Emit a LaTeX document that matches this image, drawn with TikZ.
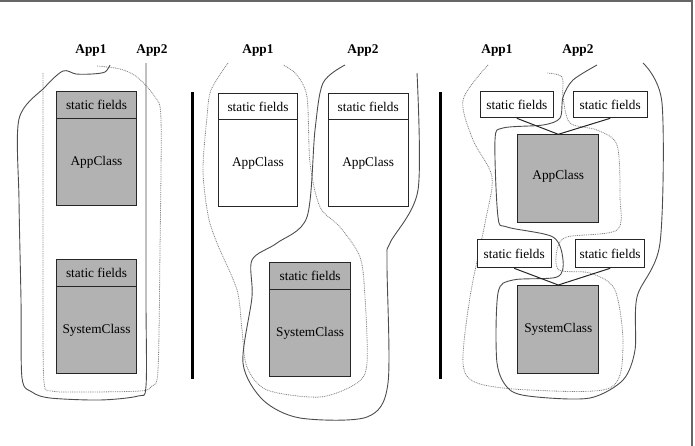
\documentclass[tikz,border=0pt]{standalone}
\usepackage{fontspec}
\setmainfont{Liberation Serif}
\newfontfamily\tnrfont{Liberation Serif}
\begin{document}
\begin{tikzpicture}[x=1pt,y=-1pt,
  every node/.style={font=\tnrfont\fontsize{13.3}{15}\selectfont, inner sep=0pt},
  cls/.style={draw=black!85, line width=1pt, anchor=north west},
  shaded/.style={fill=black!30},
  plain/.style={fill=white},
  lbl/.style={font=\tnrfont\fontsize{13.3}{15}\selectfont\bfseries},
  sol/.style={draw=black!70, line width=0.9pt},
  dot/.style={draw=black!50, line width=0.8pt, dash pattern=on 0.9pt off 0.9pt},
  sep/.style={line width=3pt},
  conn/.style={draw=black!85, line width=1pt}]
\useasboundingbox (0,0) rectangle (695,445);
% frame
\draw[black!60, line width=1.5pt] (0,1) -- (692,1) -- (692,446);
% separators
\draw[sep] (192,92) -- (192,379);
\draw[sep] (440,92) -- (440,379);

% ---------- panel 1 ----------
\draw[dot] plot[smooth, tension=0.5] coordinates {(97,66) (120,69) (137,77) (155,97) (161,120) (160,250) (158,370) (152,386) (140,391) (80,392) (52,391) (44,382) (43,300) (43,150) (43,73)};
\draw[sol] plot[smooth, tension=0.5] coordinates {(110,65) (105,72) (92,74) (76,74) (63,71) (45,87) (19,119) (19,200) (21,300) (22,378) (32,392) (50,398) (100,400) (138,396) (146,386) (146,300) (146,150) (146,63)};
\node[cls,shaded,minimum width=80pt,minimum height=26.7pt] (p1sfA) at (56,91) {static fields};
\node[cls,shaded,minimum width=80pt,minimum height=87.3pt] (p1app) at (56,117.7) {AppClass};
\node[cls,shaded,minimum width=80pt,minimum height=27pt] (p1sfB) at (56,259) {static fields};
\node[cls,shaded,minimum width=80pt,minimum height=87pt] (p1sys) at (56,286) {SystemClass};
\node[lbl] (p1a1) at (91,51) {App1};
\node[lbl] (p1a2) at (152,51) {App2};

% ---------- panel 2 ----------
\draw[dot] plot[smooth, tension=0.5] coordinates {(228,63) (211,90) (207,117) (203,170) (208,215) (217,243) (237,290) (242,330) (247,367) (267,390) (320,397) (357,383) (367,363) (365,297) (360,257) (340,227) (320,207) (310,163) (307,97) (296,74) (283,65)};
\draw[sol] plot[smooth, tension=0.5] coordinates {(345,65) (323,83) (315,130) (307,217) (277,243) (252,260) (252,297) (243,363) (263,400) (300,418) (367,417) (388,383) (387,263) (390,243) (418,190) (417,73)};
\node[cls,plain,minimum width=79.6pt,minimum height=26.6pt] (p2sfA) at (217.7,92.7) {static fields};
\node[cls,plain,minimum width=79.6pt,minimum height=86.7pt] (p2appA) at (217.7,119.3) {AppClass};
\node[cls,plain,minimum width=80pt,minimum height=26.6pt] (p2sfB) at (327.7,92.7) {static fields};
\node[cls,plain,minimum width=80pt,minimum height=86.7pt] (p2appB) at (327.7,119.3) {AppClass};
\node[cls,shaded,minimum width=80.7pt,minimum height=26.7pt] (p2sfS) at (269.3,262.3) {static fields};
\node[cls,shaded,minimum width=80.7pt,minimum height=86.7pt] (p2sys) at (269.3,289) {SystemClass};
\node[lbl] (p2a1) at (258,51) {App1};
\node[lbl] (p2a2) at (363,51) {App2};

% ---------- panel 3 ----------
\draw[dot] plot[smooth, tension=0.5] coordinates {(488,65) (463,100) (473,140) (492,177) (485,223) (470,297) (463,363) (477,383) (530,390) (610,388) (623,347) (615,290) (590,273) (559,270) (557,250) (567,237) (617,230) (620,197) (617,145) (597,130) (570,123) (563,97) (562,77) (547,73)};
\draw[sol] plot[smooth, tension=0.5] coordinates {(597,65) (573,80) (563,97) (560,118) (543,125) (503,128) (495,140) (498,217) (507,227) (553,237) (563,260) (557,277) (513,280) (498,293) (497,363) (510,390) (537,397) (590,398) (623,380) (635,350) (637,297) (660,243) (662,103) (643,63)};
\node[cls,shaded,minimum width=81pt,minimum height=87.4pt,text depth=8pt] (p3app) at (517.3,134.3) {AppClass};
\node[cls,shaded,minimum width=81pt,minimum height=87.7pt] (p3sys) at (517.3,285) {SystemClass};
\node[cls,plain,minimum width=72.7pt,minimum height=26.6pt] (p3sfA) at (480,90.7) {static fields};
\node[cls,plain,minimum width=74pt,minimum height=26.6pt] (p3sfB) at (572.7,90.7) {static fields};
\node[cls,plain,minimum width=74pt,minimum height=28pt] (p3sfC) at (476.7,239.3) {static fields};
\node[cls,plain,minimum width=69.3pt,minimum height=28pt] (p3sfD) at (575,239.3) {static fields};
\draw[conn] (p3sfA.south) -- (p3app.north);
\draw[conn] (p3sfB.south) -- (p3app.north);
\draw[conn] (p3sfC.south) -- (p3sys.north);
\draw[conn] (p3sfD.south) -- (p3sys.north);
\node[lbl] (p3a1) at (497,51) {App1};
\node[lbl] (p3a2) at (578,51) {App2};
\end{tikzpicture}
\end{document}
